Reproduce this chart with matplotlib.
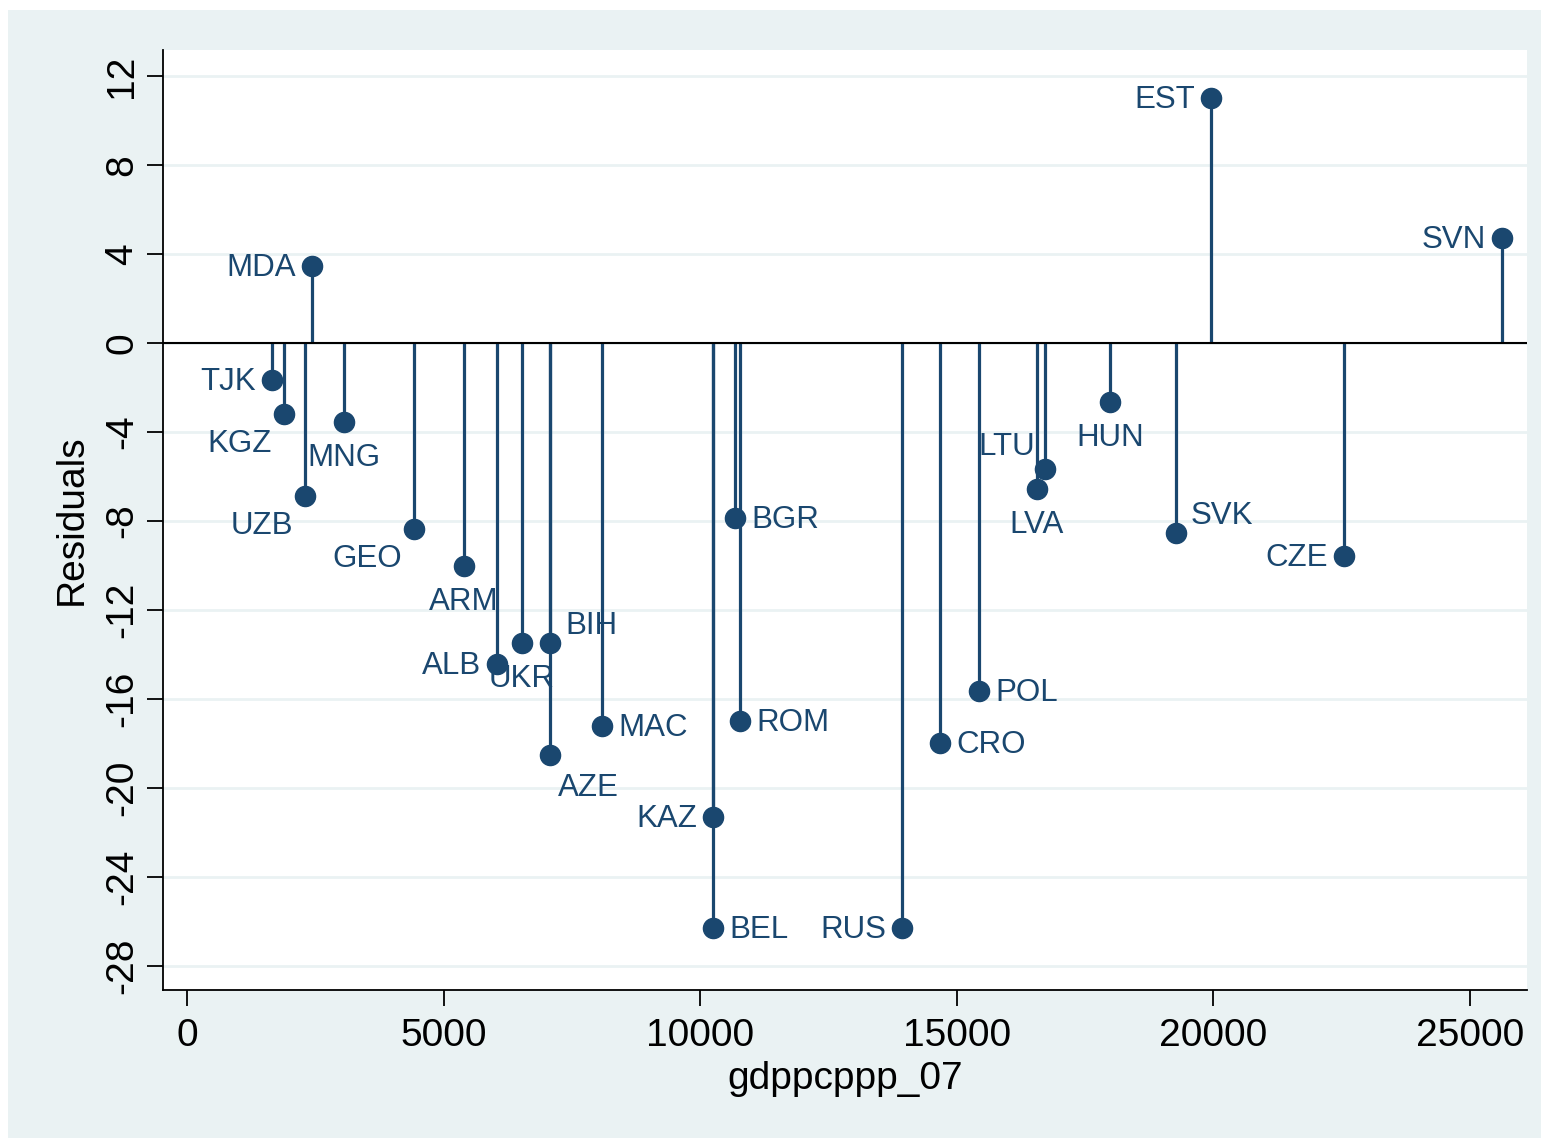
import matplotlib
matplotlib.use('Agg')
import matplotlib.pyplot as plt
from matplotlib.patches import Rectangle

# residuals by country against GDP per capita (PPP, 2007)
countries = ['TJK', 'KGZ', 'UZB', 'MDA', 'MNG', 'GEO', 'ARM', 'ALB', 'UKR', 'BIH',
             'AZE', 'MAC', 'KAZ', 'BEL', 'BGR', 'ROM', 'RUS', 'CRO', 'POL', 'LVA',
             'LTU', 'HUN', 'SVK', 'EST', 'CZE', 'SVN']
gdppcppp_07 = [1656, 1890, 2299, 2436, 3059, 4423, 5398, 6041, 6528, 7073,
               7073, 8087, 10250, 10250, 10678, 10776, 13932, 14673, 15433, 16563,
               16719, 17985, 19271, 19953, 22545, 25624]
residuals = [-1.66, -3.19, -6.88, 3.46, -3.55, -8.36, -10.02, -14.43, -13.48, -13.48,
             -18.52, -17.21, -21.30, -26.29, -7.87, -16.99, -26.29, -17.98, -15.64, -6.56,
             -5.66, -2.65, -8.54, 11.01, -9.57, 4.72]

# marker label clock positions (Stata style)
label_pos = {'TJK': 9, 'KGZ': 7, 'UZB': 7, 'MDA': 9, 'MNG': 6, 'GEO': 7, 'ARM': 6,
             'ALB': 9, 'UKR': 6, 'BIH': 2, 'AZE': 5, 'MAC': 3, 'KAZ': 9, 'BEL': 3,
             'BGR': 3, 'ROM': 3, 'RUS': 9, 'CRO': 3, 'POL': 3, 'LVA': 6, 'LTU': 11,
             'HUN': 6, 'SVK': 2, 'EST': 9, 'CZE': 9, 'SVN': 9}
clock = {3: (16, -2, 'left'), 9: (-16, -2, 'right'), 6: (0, -36, 'center'),
         7: (-12, -30, 'right'), 5: (8, -33, 'left'), 2: (15, 17, 'left'),
         11: (-10, 22, 'right')}

navy = '#1A476F'
bg = '#EAF2F3'

plt.rcParams['font.family'] = ['Liberation Sans', 'DejaVu Sans']
plt.rcParams['axes.unicode_minus'] = False

fig = plt.figure(figsize=(15.49, 11.40), dpi=100)
fig.patch.set_facecolor('white')
fig.patches.append(Rectangle((8 / 1549, 2 / 1140), 1533 / 1549, 1128 / 1140,
                             transform=fig.transFigure, facecolor=bg,
                             edgecolor='none', zorder=-1))

ax = fig.add_axes([163 / 1549, 1 - 990 / 1140, 1364 / 1549, 940 / 1140])
ax.set_facecolor('white')

ax.vlines(gdppcppp_07, 0, residuals, color=navy, lw=2.3, zorder=3)
ax.axhline(0, color='black', lw=1.5, zorder=4)
ax.plot(gdppcppp_07, residuals, 'o', color=navy, markersize=14.5, zorder=5)

for c, x, y in zip(countries, gdppcppp_07, residuals):
    dx, dy, ha = clock[label_pos[c]]
    ax.annotate(c, (x, y), xytext=(dx, dy), textcoords='offset pixels',
                ha=ha, va='center', fontsize=22.5, color=navy, zorder=6)

ax.set_xlim(-468, 26111)
ax.set_ylim(-29.08, 13.17)
ax.set_xticks([0, 5000, 10000, 15000, 20000, 25000])
ax.set_yticks(range(-28, 13, 4))
ax.yaxis.grid(True, color=bg, lw=2)
ax.set_axisbelow(True)

for s in ['top', 'right']:
    ax.spines[s].set_visible(False)
for s in ['left', 'bottom']:
    ax.spines[s].set_linewidth(1.3)

ax.tick_params(axis='both', length=11.5, width=1.3, labelsize=28)
ax.tick_params(axis='x', pad=9)
ax.tick_params(axis='y', pad=5)
for lab in ax.get_yticklabels():
    lab.set_rotation(90)
    lab.set_va('center')

ax.set_xlabel('gdppcppp_07', fontsize=28, labelpad=5)
ax.set_ylabel('Residuals', fontsize=28, labelpad=10)

fig.savefig('out.png', dpi=100)
